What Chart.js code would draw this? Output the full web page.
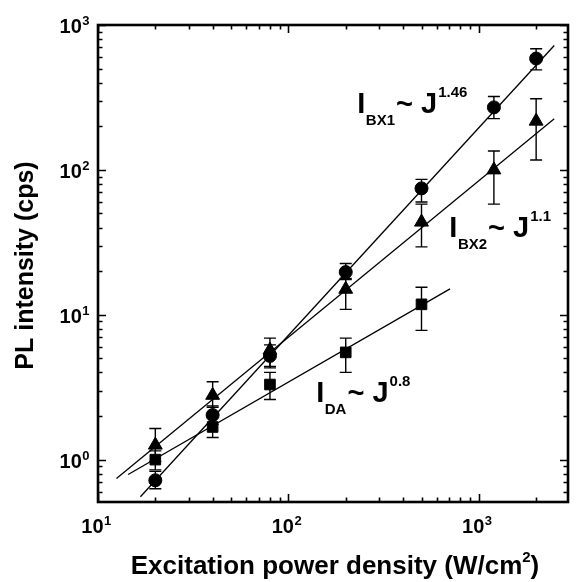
<!DOCTYPE html>
<html>
<head>
<meta charset="utf-8">
<script src="https://cdn.jsdelivr.net/npm/chart.js@4.4.0/dist/chart.umd.min.js"></script>
<style>
  body { margin: 0; background: #fff; }
  canvas { display: block; }
</style>
</head>
<body>
<canvas id="chart" width="577" height="582"></canvas>
<script>
// excitation power density (W/cm2)
const POWER = [20, 40, 80, 200, 500, 1200, 2000];
const POWER_DA = [20, 40, 80, 200, 500];

// PL intensity (cps), with error bar ends
const BX1 = [0.72, 2.03, 5.2, 19.7, 74.5, 270, 587];
const BX1_LOW = [0.63, 1.75, 4.3, 17.5, 60, 226, 490];
const BX1_HIGH = [0.83, 2.35, 6.2, 22.6, 86, 321, 685];

const BX2 = [1.26, 2.78, 5.7, 15, 43.6, 100, 217];
const BX2_LOW = [0.97, 2.3, 4.4, 10.9, 29.4, 58, 117];
const BX2_HIGH = [1.64, 3.45, 6.9, 17.8, 58, 135, 310];

const DA = [1.0, 1.68, 3.3, 5.5, 11.8];
const DA_LOW = [0.85, 1.42, 2.6, 4.0, 7.8];
const DA_HIGH = [1.15, 1.95, 4.0, 6.9, 15.5];

// power-law fit lines (end points)
const FIT_BX1_X = [16.7, 2490];
const FIT_BX1_Y = [0.554, 722];
const FIT_BX2_X = [12.5, 2490];
const FIT_BX2_Y = [0.74, 225];
const FIT_DA_X = [14.4, 706];
const FIT_DA_Y = [0.79, 15.1];

// tick labels: 10^n
const X_TICK_EXP = [1, 2, 3];
const Y_TICK_EXP = [0, 1, 2, 3];

const FONT = '"Liberation Sans", Arial, Helvetica, sans-serif';

function pts(xs, ys) {
  return xs.map((x, i) => ({ x, y: ys[i] }));
}

function fitLine(xs, ys) {
  return {
    data: pts(xs, ys),
    showLine: true,
    borderColor: '#000',
    borderWidth: 1.3,
    pointRadius: 0,
    fill: false,
  };
}

function markers(xs, ys, style, r) {
  return {
    data: pts(xs, ys),
    showLine: false,
    pointStyle: style,
    pointRadius: r,
    backgroundColor: '#000',
    borderColor: '#000',
    borderWidth: 1,
  };
}

const errorSets = [
  [POWER, BX1_LOW, BX1_HIGH],
  [POWER, BX2_LOW, BX2_HIGH],
  [POWER_DA, DA_LOW, DA_HIGH],
];

const errorBars = {
  id: 'errorBars',
  beforeDatasetsDraw(chart) {
    const { ctx, chartArea: a, scales: { x, y } } = chart;
    ctx.save();
    ctx.beginPath();
    ctx.rect(a.left, a.top, a.right - a.left, a.bottom - a.top);
    ctx.clip();
    ctx.strokeStyle = '#000';
    ctx.lineWidth = 1.4;
    errorSets.forEach(([xs, lo, hi]) => {
      xs.forEach((v, i) => {
        const px = x.getPixelForValue(v);
        const y1 = y.getPixelForValue(lo[i]);
        const y2 = y.getPixelForValue(hi[i]);
        ctx.beginPath();
        ctx.moveTo(px, y1); ctx.lineTo(px, y2);
        ctx.moveTo(px - 6, y1); ctx.lineTo(px + 6, y1);
        ctx.moveTo(px - 6, y2); ctx.lineTo(px + 6, y2);
        ctx.stroke();
      });
    });
    ctx.restore();
  },
};

function power10(ctx, exp, x, y, align) {
  ctx.font = `bold 20px ${FONT}`;
  const w = ctx.measureText('10').width;
  ctx.font = `bold 13px ${FONT}`;
  const we = ctx.measureText(String(exp)).width;
  let left = x;
  if (align === 'right') left = x - w - we;
  if (align === 'center') left = x - (w + we) / 2 - 2;
  ctx.textAlign = 'left';
  ctx.textBaseline = 'alphabetic';
  ctx.font = `bold 20px ${FONT}`;
  ctx.fillText('10', left, y);
  ctx.font = `bold 13px ${FONT}`;
  ctx.fillText(String(exp), left + w + 0.5, y - 8);
}

function formula(ctx, x, y, sub, sup) {
  ctx.textAlign = 'left';
  ctx.textBaseline = 'alphabetic';
  ctx.font = `bold 29px ${FONT}`;
  ctx.fillText('I', x, y);
  let cx = x + ctx.measureText('I').width + 0.5;
  ctx.font = `bold 15px ${FONT}`;
  ctx.fillText(sub, cx, y + 12);
  cx += ctx.measureText(sub).width + 1;
  ctx.font = `bold 29px ${FONT}`;
  ctx.fillText('~ J', cx, y);
  cx += ctx.measureText('~ J').width + 1;
  ctx.font = `bold 15px ${FONT}`;
  ctx.fillText(sup, cx, y - 16);
}

const decor = {
  id: 'decor',
  afterDraw(chart) {
    const { ctx, chartArea: a, scales: { x, y } } = chart;
    ctx.save();
    ctx.fillStyle = '#000';
    ctx.strokeStyle = '#000';

    // inward ticks on all four sides
    ctx.lineWidth = 1.6;
    ctx.beginPath();
    for (let k = -1; k <= 3; k++) {
      for (let m = 1; m <= 9; m++) {
        const v = m * Math.pow(10, k);
        if (v >= y.min && v <= y.max) {
          const py = Math.round(y.getPixelForValue(v)) + 0.5;
          const len = m === 1 ? 8 : 4.5;
          ctx.moveTo(a.left, py); ctx.lineTo(a.left + len, py);
          ctx.moveTo(a.right, py); ctx.lineTo(a.right - len, py);
        }
      }
    }
    for (let k = 1; k <= 3; k++) {
      for (let m = 1; m <= 9; m++) {
        const v = m * Math.pow(10, k);
        if (v >= x.min && v <= x.max) {
          const px = Math.round(x.getPixelForValue(v)) + 0.5;
          const len = m === 1 ? 8 : 4.5;
          ctx.moveTo(px, a.bottom); ctx.lineTo(px, a.bottom - len);
          ctx.moveTo(px, a.top); ctx.lineTo(px, a.top + len);
        }
      }
    }
    ctx.stroke();

    // frame
    ctx.lineWidth = 2.6;
    ctx.strokeRect(a.left, a.top, a.right - a.left, a.bottom - a.top);

    // tick labels
    Y_TICK_EXP.forEach((e) => {
      power10(ctx, e, a.left - 9, y.getPixelForValue(Math.pow(10, e)) + 8, 'right');
    });
    X_TICK_EXP.forEach((e) => {
      power10(ctx, e, x.getPixelForValue(Math.pow(10, e)), a.bottom + 31, 'center');
    });

    // axis titles
    ctx.textAlign = 'center';
    ctx.textBaseline = 'alphabetic';
    ctx.font = `bold 26px ${FONT}`;
    const title = 'Excitation power density (W/cm';
    const tw = ctx.measureText(title).width;
    ctx.font = `bold 15px ${FONT}`;
    const t2 = ctx.measureText('2').width;
    ctx.font = `bold 26px ${FONT}`;
    const t3 = ctx.measureText(')').width;
    const total = tw + t2 + t3;
    const tx = (a.left + a.right) / 2 - total / 2 + 2;
    ctx.textAlign = 'left';
    ctx.fillText(title, tx, 574);
    ctx.font = `bold 15px ${FONT}`;
    ctx.fillText('2', tx + tw, 562);
    ctx.font = `bold 26px ${FONT}`;
    ctx.fillText(')', tx + tw + t2, 574);

    ctx.save();
    ctx.translate(26, (a.top + a.bottom) / 2 + 2);
    ctx.rotate(-Math.PI / 2);
    ctx.textAlign = 'center';
    ctx.textBaseline = 'middle';
    ctx.font = `bold 25px ${FONT}`;
    ctx.fillText('PL intensity (cps)', 0, 0);
    ctx.restore();

    // power-law annotations, anchored in data coordinates
    formula(ctx, x.getPixelForValue(230), y.getPixelForValue(245), 'BX1', '1.46');
    formula(ctx, x.getPixelForValue(700), y.getPixelForValue(34.2), 'BX2', '1.1');
    formula(ctx, x.getPixelForValue(140), y.getPixelForValue(2.49), 'DA', '0.8');

    ctx.restore();
  },
};

new Chart(document.getElementById('chart'), {
  type: 'scatter',
  data: {
    datasets: [
      fitLine(FIT_BX1_X, FIT_BX1_Y),
      fitLine(FIT_BX2_X, FIT_BX2_Y),
      fitLine(FIT_DA_X, FIT_DA_Y),
      markers(POWER, BX1, 'circle', 6.5),
      markers(POWER, BX2, 'triangle', 8),
      markers(POWER_DA, DA, 'rect', 7.5),
    ],
  },
  options: {
    responsive: false,
    animation: false,
    devicePixelRatio: 1,
    layout: { padding: { left: 98, top: 25, right: 4, bottom: 80 } },
    plugins: { legend: { display: false }, tooltip: { enabled: false } },
    scales: {
      x: {
        type: 'logarithmic',
        min: 10,
        max: 2940,
        grid: { display: false },
        border: { display: false },
        ticks: { display: false },
        afterFit: (s) => { s.height = 0; },
      },
      y: {
        type: 'logarithmic',
        min: 0.51,
        max: 1000,
        grid: { display: false },
        border: { display: false },
        ticks: { display: false },
        afterFit: (s) => { s.width = 0; },
      },
    },
  },
  plugins: [errorBars, decor],
});
</script>
</body>
</html>
